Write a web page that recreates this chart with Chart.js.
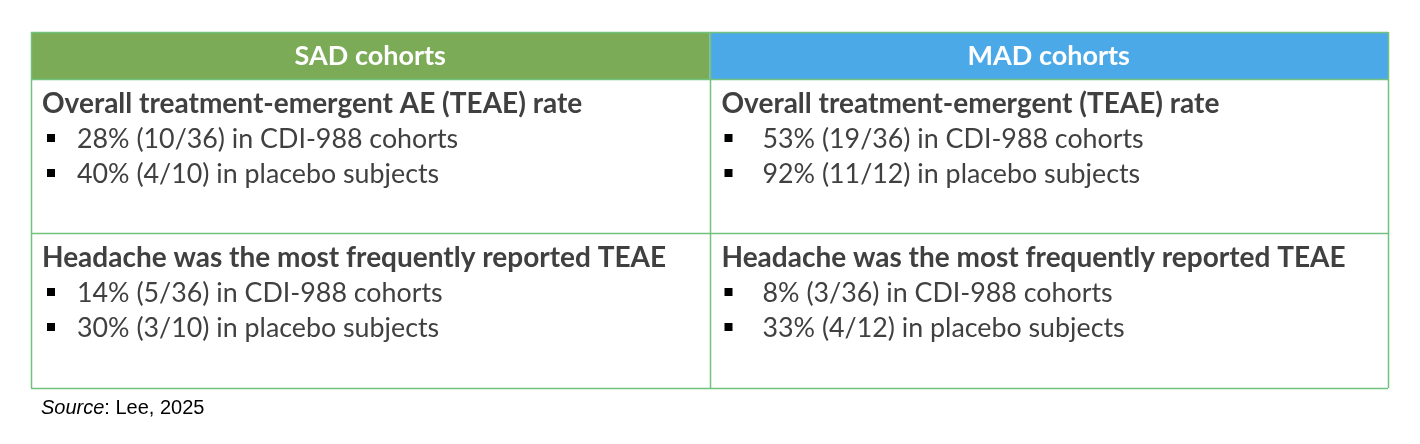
<!DOCTYPE html>
<html>
<head>
<meta charset="utf-8">
<script src="https://cdn.jsdelivr.net/npm/chart.js@4.4.1/dist/chart.umd.min.js"></script>
<style>
  html, body { margin: 0; padding: 0; background: #fff; }
  canvas { display: block; }
</style>
</head>
<body>
<canvas id="table" width="1420" height="444"></canvas>
<script>
// column headers
const columns = ['SAD cohorts', 'MAD cohorts'];
// section titles per column (row 1, row 2)
const sadTitles = ['Overall treatment-emergent AE (TEAE) rate', 'Headache was the most frequently reported TEAE'];
const madTitles = ['Overall treatment-emergent (TEAE) rate', 'Headache was the most frequently reported TEAE'];
// CDI-988 arm: percent, events, subjects (row 1, row 2)
const sadCdiPct = [28, 14];
const sadCdiCount = [10, 5];
const sadCdiTotal = [36, 36];
const madCdiPct = [53, 8];
const madCdiCount = [19, 3];
const madCdiTotal = [36, 36];
// placebo arm
const sadPboPct = [40, 30];
const sadPboCount = [4, 3];
const sadPboTotal = [10, 10];
const madPboPct = [92, 33];
const madPboCount = [11, 4];
const madPboTotal = [12, 12];
const sourceNote = 'Lee, 2025';

// layout (kept apart from the data)
const rowEdges = [0, 47, 201, 356];        // y scale units, header + 2 body rows
const headerColors = ['#7bab56', '#4ca9e7'];
const borderColor = '#72c27e';
const textColor = '#404040';
const FONT = 'Lato, "Open Sans", sans-serif';

function cdiLine(pct, n, total) {
  return pct + '% (' + n + '/' + total + ') in CDI-988 cohorts';
}
function pboLine(pct, n, total) {
  return pct + '% (' + n + '/' + total + ') in placebo subjects';
}

const cells = [
  sadTitles.map((t, i) => ({
    title: t,
    lines: [cdiLine(sadCdiPct[i], sadCdiCount[i], sadCdiTotal[i]), pboLine(sadPboPct[i], sadPboCount[i], sadPboTotal[i])]
  })),
  madTitles.map((t, i) => ({
    title: t,
    lines: [cdiLine(madCdiPct[i], madCdiCount[i], madCdiTotal[i]), pboLine(madPboPct[i], madPboCount[i], madPboTotal[i])]
  }))
];

const tablePlugin = {
  id: 'tableCells',
  afterDraw(chart) {
    const ctx = chart.ctx;
    const x = chart.scales.x;
    const y = chart.scales.y;
    ctx.save();

    // header fills
    columns.forEach((label, c) => {
      const left = x.getPixelForValue(c);
      const right = x.getPixelForValue(c + 1);
      const top = y.getPixelForValue(rowEdges[0]);
      const bottom = y.getPixelForValue(rowEdges[1]);
      ctx.fillStyle = headerColors[c];
      ctx.fillRect(left, top, right - left, bottom - top);
      ctx.fillStyle = '#fff';
      ctx.font = 'bold 27px ' + FONT;
      ctx.textAlign = 'center';
      ctx.textBaseline = 'alphabetic';
      ctx.fillText(label, (left + right) / 2, top + 33);
    });

    // body text
    const titleInset = [11, 12];
    const bulletInset = [16, 15];
    const lineInset = [46, 53];
    cells.forEach((col, c) => {
      const left = x.getPixelForValue(c);
      col.forEach((cell, r) => {
        const top = y.getPixelForValue(rowEdges[r + 1]);
        ctx.textAlign = 'left';
        ctx.fillStyle = textColor;
        ctx.font = 'bold 28px ' + FONT;
        ctx.fillText(cell.title, left + titleInset[c], top + 34);
        ctx.font = '26.8px ' + FONT;
        cell.lines.forEach((line, k) => {
          const base = top + 69 + k * 35;
          ctx.fillStyle = '#000';
          ctx.fillRect(left + bulletInset[c], base - 14, 8, 8);
          ctx.fillStyle = textColor;
          ctx.fillText(line, left + lineInset[c], base);
        });
      });
    });

    // grid lines
    ctx.strokeStyle = borderColor;
    ctx.lineWidth = 1.5;
    ctx.beginPath();
    rowEdges.forEach(v => {
      const py = Math.round(y.getPixelForValue(v)) + 0.5;
      ctx.moveTo(x.getPixelForValue(0), py);
      ctx.lineTo(x.getPixelForValue(columns.length), py);
    });
    for (let c = 0; c <= columns.length; c++) {
      const px = Math.round(x.getPixelForValue(c)) + 0.5;
      ctx.moveTo(px, y.getPixelForValue(rowEdges[0]));
      ctx.lineTo(px, y.getPixelForValue(rowEdges[rowEdges.length - 1]));
    }
    ctx.stroke();

    // source note
    const left = x.getPixelForValue(0);
    const bottom = y.getPixelForValue(rowEdges[rowEdges.length - 1]);
    ctx.fillStyle = '#000';
    ctx.font = 'italic 20px "Liberation Sans", Arial, sans-serif';
    ctx.fillText('Source', left + 10, bottom + 26);
    const w = ctx.measureText('Source').width;
    ctx.font = '20px "Liberation Sans", Arial, sans-serif';
    ctx.fillText(': ' + sourceNote, left + 10 + w, bottom + 26);
    ctx.restore();
  }
};

new Chart(document.getElementById('table'), {
  type: 'scatter',
  data: { datasets: [{ data: [] }] },
  options: {
    responsive: false,
    animation: false,
    layout: { padding: { left: 31, top: 32, right: 32, bottom: 56 } },
    plugins: { legend: { display: false }, tooltip: { enabled: false } },
    scales: {
      x: { type: 'linear', min: 0, max: columns.length, display: false },
      y: { type: 'linear', min: rowEdges[0], max: rowEdges[rowEdges.length - 1], reverse: true, display: false }
    }
  },
  plugins: [tablePlugin]
});
</script>
</body>
</html>
